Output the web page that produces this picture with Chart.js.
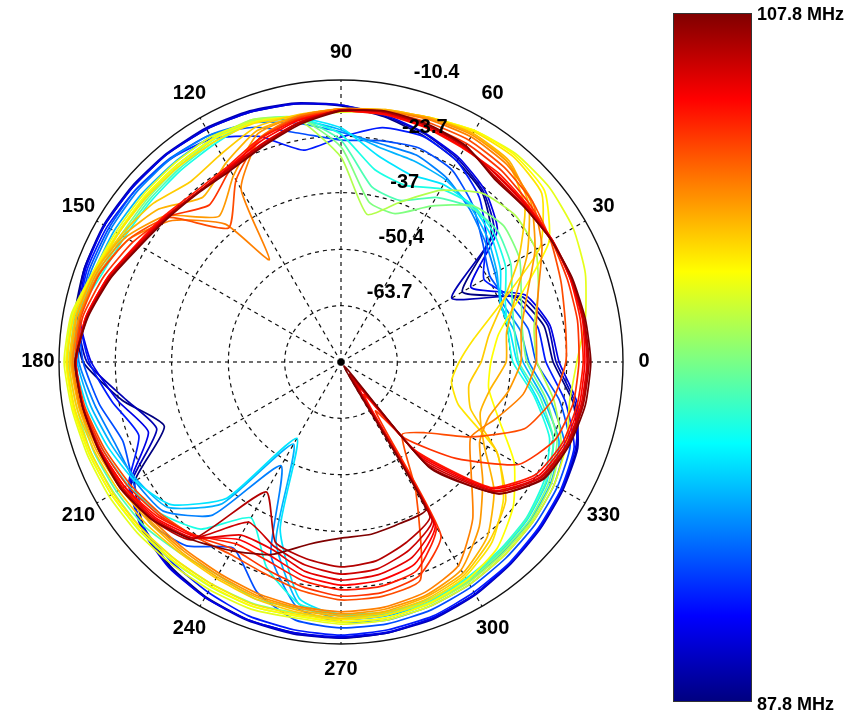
<!DOCTYPE html>
<html><head><meta charset="utf-8">
<script src="https://cdn.jsdelivr.net/npm/chart.js@4/dist/chart.umd.min.js"></script>
<style>html,body{margin:0;padding:0;background:#fff;overflow:hidden}canvas{display:block}</style>
</head><body>
<canvas id="c" width="859" height="720"></canvas>
<script>
// Angles (degrees, counter-clockwise from 0 at the right)
const angles = [0,10,20,30,40,50,60,70,80,90,100,110,120,130,140,150,160,170,180,190,200,210,220,230,240,250,260,270,280,290,300,310,320,330,340,350];
// Frequencies (MHz), ascending
const freqs = [87.8,88.8,89.8,90.8,91.8,92.8,93.8,94.8,95.8,96.8,97.8,98.8,99.8,100.3,100.8,101.3,101.8,102.3,102.8,103.8,104.3,104.8,105.3,105.8,106.3,106.8,107.8];
// Level (dB) per angle, one array per frequency
const f087_8 = [-26.9,-28.3,-32.6,-43.9,-30.7,-25.0,-22.2,-20.1,-18.2,-16.5,-15.1,-14.2,-13.5,-13.0,-12.8,-12.5,-12.5,-13.2,-16.1,-24.6,-32.6,-20.8,-16.3,-14.2,-13.0,-12.3,-12.1,-11.8,-12.1,-12.8,-13.7,-14.9,-15.8,-16.8,-17.7,-21.3];
const f088_8 = [-26.2,-27.4,-31.7,-46.8,-29.8,-24.6,-21.7,-19.6,-18.0,-16.3,-14.9,-13.9,-13.2,-12.8,-12.5,-12.3,-12.5,-13.7,-17.0,-25.5,-30.7,-19.8,-15.8,-13.9,-12.8,-12.1,-11.8,-11.8,-12.1,-12.5,-13.5,-14.7,-15.6,-16.5,-17.5,-20.8];
const f089_8 = [-25.5,-26.9,-30.7,-41.6,-28.8,-24.1,-21.3,-19.4,-17.7,-16.3,-15.1,-14.2,-13.5,-13.0,-12.8,-12.5,-12.8,-14.2,-18.0,-23.6,-28.6,-19.4,-15.6,-13.7,-12.8,-12.3,-12.1,-12.1,-12.3,-12.8,-13.7,-14.9,-15.8,-16.8,-18.0,-20.3];
const f090_8 = [-28.6,-29.8,-33.3,-38.0,-32.1,-26.2,-22.2,-20.3,-20.8,-23.9,-26.2,-20.3,-16.1,-14.4,-13.7,-13.2,-13.2,-14.2,-17.5,-22.2,-26.2,-19.1,-16.1,-15.1,-14.2,-13.2,-12.8,-12.5,-12.8,-13.2,-14.2,-15.1,-16.1,-17.0,-18.4,-23.2];
const f091_8 = [-30.9,-32.1,-35.0,-36.4,-33.3,-28.6,-24.6,-23.2,-23.9,-24.6,-22.2,-18.0,-15.1,-14.2,-13.7,-13.7,-13.7,-14.2,-16.1,-19.1,-22.2,-20.3,-18.0,-20.3,-26.2,-19.1,-15.1,-14.2,-14.2,-14.7,-15.6,-16.5,-17.2,-18.0,-19.4,-24.6];
const f092_8 = [-32.6,-34.0,-36.4,-35.0,-32.6,-29.8,-26.9,-25.0,-24.6,-22.7,-19.8,-16.8,-15.1,-14.4,-14.2,-14.2,-14.2,-14.2,-15.1,-18.0,-20.3,-20.8,-22.2,-29.8,-48.7,-28.6,-18.0,-15.6,-15.1,-15.6,-16.3,-17.2,-18.0,-18.9,-20.8,-26.9];
const f093_8 = [-34.0,-35.4,-36.9,-34.5,-31.7,-29.3,-27.4,-26.5,-25.5,-22.2,-18.9,-16.5,-15.6,-15.6,-15.4,-15.1,-14.9,-14.2,-14.7,-17.0,-19.4,-21.3,-23.6,-33.3,-54.6,-32.1,-19.1,-16.3,-16.1,-16.3,-17.0,-18.0,-18.7,-19.8,-22.2,-28.6];
const f094_8 = [-35.4,-36.4,-36.9,-33.5,-30.7,-28.8,-28.6,-29.8,-27.4,-21.7,-18.4,-16.5,-16.3,-16.5,-16.5,-16.1,-15.4,-14.2,-14.2,-16.1,-18.4,-20.8,-24.6,-35.0,-56.2,-35.0,-20.3,-17.0,-16.5,-16.8,-17.5,-18.4,-19.4,-20.8,-23.6,-30.2];
const f095_8 = [-36.4,-36.9,-35.7,-32.1,-29.8,-28.6,-29.8,-32.6,-30.9,-23.2,-18.4,-16.5,-17.5,-18.0,-18.2,-18.0,-16.8,-13.7,-13.7,-15.1,-17.0,-18.9,-21.3,-25.5,-34.5,-25.5,-19.1,-17.5,-17.0,-17.2,-18.0,-18.9,-19.8,-21.5,-24.6,-30.7];
const f096_8 = [-35.0,-35.4,-34.0,-30.7,-28.8,-29.3,-32.1,-36.4,-35.0,-24.6,-18.4,-16.3,-17.0,-17.5,-17.7,-17.5,-16.3,-13.2,-13.2,-14.4,-14.9,-15.8,-16.5,-18.0,-18.9,-17.5,-18.0,-17.0,-16.8,-17.0,-17.7,-18.7,-19.6,-21.0,-23.6,-29.3];
const f097_8 = [-33.1,-33.5,-31.7,-28.3,-26.9,-28.8,-34.5,-39.7,-38.7,-26.2,-18.4,-16.1,-16.5,-17.0,-17.2,-17.0,-15.8,-12.8,-12.5,-13.7,-14.2,-15.1,-15.6,-16.1,-16.3,-16.3,-16.8,-16.3,-16.3,-16.5,-17.2,-18.2,-18.9,-20.3,-22.7,-27.9];
const f098_8 = [-30.7,-30.7,-27.4,-23.9,-23.2,-25.0,-30.2,-36.9,-41.6,-28.6,-18.9,-16.1,-16.1,-16.5,-16.5,-16.3,-15.4,-12.5,-12.1,-13.0,-13.7,-14.4,-14.9,-15.4,-15.6,-15.6,-16.1,-15.6,-15.6,-16.1,-16.8,-17.7,-18.4,-19.6,-21.7,-26.0];
const f099_8 = [-21.3,-18.4,-15.6,-13.7,-12.8,-12.8,-13.9,-15.6,-17.0,-18.0,-18.0,-16.5,-15.6,-15.8,-15.8,-15.6,-14.7,-12.3,-11.6,-12.5,-13.2,-13.7,-14.2,-14.7,-14.9,-14.9,-15.6,-15.1,-15.1,-15.6,-16.3,-17.2,-18.0,-18.9,-20.3,-22.2];
const f100_3 = [-41.6,-39.2,-32.1,-20.3,-14.2,-13.2,-13.9,-15.6,-16.8,-17.7,-18.0,-16.8,-16.3,-16.5,-16.3,-16.1,-14.9,-12.8,-12.1,-12.8,-13.7,-14.4,-15.1,-15.6,-15.8,-15.6,-16.1,-15.6,-15.6,-16.3,-17.5,-19.6,-23.9,-29.8,-37.3,-41.6];
const f100_8 = [-49.1,-45.1,-36.9,-22.7,-15.1,-13.7,-14.2,-15.6,-16.8,-17.5,-18.0,-17.0,-17.0,-17.0,-16.8,-16.3,-15.1,-13.0,-12.3,-13.2,-14.2,-14.9,-15.6,-16.1,-16.3,-16.1,-16.5,-16.1,-16.3,-17.0,-18.4,-21.5,-26.9,-34.5,-47.5,-50.5];
const f101_3 = [-43.9,-41.6,-36.4,-28.6,-20.3,-15.6,-14.7,-15.6,-16.5,-17.2,-17.7,-18.0,-20.3,-21.5,-18.9,-17.0,-15.1,-13.5,-12.8,-13.7,-15.1,-16.3,-17.2,-18.0,-18.0,-17.5,-17.0,-16.5,-16.8,-17.5,-18.9,-22.2,-26.2,-34.5,-44.4,-46.3];
const f101_8 = [-38.0,-37.3,-33.3,-26.2,-19.1,-15.1,-14.7,-15.6,-16.5,-17.2,-18.0,-18.9,-22.7,-26.2,-20.8,-17.5,-15.1,-13.7,-13.2,-14.2,-15.6,-17.0,-18.0,-18.4,-18.4,-18.0,-17.5,-17.0,-17.2,-18.0,-19.4,-23.2,-29.8,-38.0,-42.0,-41.1];
const f102_3 = [-34.5,-33.8,-30.2,-24.1,-18.4,-15.6,-15.1,-15.8,-16.8,-17.2,-18.0,-19.6,-26.2,-32.1,-23.2,-18.2,-15.6,-14.2,-13.5,-14.4,-16.1,-17.5,-18.4,-18.9,-18.9,-18.4,-18.0,-17.5,-17.7,-18.4,-20.3,-26.2,-33.3,-39.2,-39.7,-36.9];
const f102_8 = [-30.9,-30.2,-27.4,-22.2,-18.0,-16.1,-15.6,-16.1,-16.8,-17.2,-18.0,-20.8,-29.8,-34.5,-25.0,-19.1,-16.1,-14.4,-13.7,-14.7,-16.3,-18.0,-18.9,-19.4,-19.4,-18.9,-18.4,-18.0,-18.2,-19.1,-21.5,-28.6,-36.9,-41.6,-38.0,-33.3];
const f103_8 = [-23.9,-23.2,-21.7,-19.8,-18.0,-17.0,-16.5,-16.8,-17.0,-17.5,-18.4,-20.8,-27.4,-35.7,-23.9,-19.1,-16.3,-14.7,-14.2,-15.6,-17.5,-19.4,-21.3,-23.2,-24.6,-23.9,-22.2,-20.8,-20.8,-22.2,-41.6,-54.6,-51.0,-41.6,-30.9,-26.2];
const f104_3 = [-20.8,-20.3,-20.1,-19.6,-18.9,-18.0,-17.5,-17.5,-17.5,-17.7,-18.7,-21.0,-24.6,-28.6,-23.6,-20.3,-17.5,-15.1,-14.4,-15.4,-17.0,-18.7,-20.8,-23.4,-26.0,-25.0,-23.2,-21.7,-21.7,-23.2,-29.8,-53.4,-41.6,-28.6,-23.2,-21.3];
const f104_8 = [-19.8,-19.6,-19.4,-19.4,-19.4,-18.9,-18.9,-18.2,-17.7,-17.7,-18.9,-20.8,-23.6,-24.1,-22.9,-21.3,-18.4,-15.8,-14.4,-15.1,-16.5,-18.0,-20.3,-23.6,-27.4,-26.9,-24.6,-23.2,-23.2,-24.6,-32.1,-49.8,-30.9,-23.9,-21.3,-20.3];
const f105_3 = [-19.4,-19.1,-19.4,-19.4,-19.6,-19.4,-18.7,-18.0,-17.5,-17.7,-19.1,-21.5,-23.9,-24.6,-23.2,-21.5,-18.4,-15.8,-14.4,-15.1,-16.5,-18.0,-19.8,-23.2,-28.6,-28.3,-25.7,-24.3,-24.6,-26.2,-32.6,-48.7,-30.5,-23.2,-20.8,-19.8];
const f105_8 = [-18.9,-18.9,-19.1,-19.4,-19.8,-19.6,-18.4,-17.7,-17.2,-17.5,-19.6,-22.2,-24.1,-24.6,-23.4,-21.7,-18.7,-16.1,-14.4,-15.1,-16.3,-17.5,-19.4,-22.7,-29.8,-29.8,-26.9,-25.5,-26.0,-27.9,-33.3,-47.5,-29.8,-22.7,-20.3,-19.4];
const f106_3 = [-18.7,-18.9,-19.1,-19.6,-20.1,-20.1,-18.4,-17.5,-17.0,-17.5,-19.6,-22.4,-24.3,-24.6,-23.6,-22.0,-18.9,-16.1,-14.2,-15.1,-16.3,-17.2,-19.1,-22.7,-33.3,-30.7,-28.3,-26.9,-27.4,-29.8,-34.0,-46.3,-29.3,-22.4,-20.1,-19.1];
const f106_8 = [-18.4,-18.7,-19.1,-19.6,-20.3,-20.3,-18.2,-17.5,-17.0,-17.5,-19.8,-22.7,-24.6,-24.6,-23.6,-22.0,-18.9,-16.1,-14.2,-15.1,-16.1,-17.0,-18.9,-22.2,-41.6,-31.7,-29.8,-28.6,-29.3,-31.7,-35.0,-45.1,-28.6,-22.0,-19.8,-18.9];
const f107_8 = [-18.0,-18.4,-18.9,-19.6,-20.3,-20.6,-18.0,-17.2,-16.8,-17.7,-20.1,-22.9,-24.8,-24.8,-23.9,-22.2,-19.1,-16.3,-14.2,-15.1,-16.1,-17.0,-18.9,-22.2,-25.5,-28.6,-33.3,-35.4,-35.7,-36.4,-36.9,-44.4,-28.6,-21.7,-19.6,-18.4];
const series = [f087_8,f088_8,f089_8,f090_8,f091_8,f092_8,f093_8,f094_8,f095_8,f096_8,f097_8,f098_8,f099_8,f100_3,f100_8,f101_3,f101_8,f102_3,f102_8,f103_8,f104_3,f104_8,f105_3,f105_8,f106_3,f106_8,f107_8];
// Extra half-step readings at deep nulls: [frequency MHz, angle deg, level dB]
const halfStep = [[102.8,125,-47.5],[104.3,305,-62.8],[104.8,305,-67.6],[105.3,305,-69.9],[105.8,305,-71.1],[106.3,305,-72.3],[106.8,305,-73.5],[107.8,305,-75.8]];
// Radial axis
const rMin = -77.0, rMax = -10.4;
const ringTicks = [-63.7, -50.4, -37, -23.7, -10.4];
const ringLabels = ['-63.7', '-50,4', '-37', '-23.7', '-10.4'];
const angleTicks = [0,30,60,90,120,150,180,210,240,270,300,330];
const barLabels = ['107.8 MHz', '87.8 MHz'];

function jet(t) {
  const c = x => Math.round(255 * Math.max(0, Math.min(1, x)));
  return 'rgb(' + c(1.5 - Math.abs(4*t - 3)) + ',' + c(1.5 - Math.abs(4*t - 2)) + ',' + c(1.5 - Math.abs(4*t - 1)) + ')';
}

// radar slots every 5 deg, running clockwise from the right; angle increases counter-clockwise
const STEP = 5, NSLOT = 360 / STEP;
const slotAngles = Array.from({ length: NSLOT }, (_, k) => (360 - k * STEP) % 360);
const labels = slotAngles.map(a => String(a));
const fMin = 87.8, fMax = 107.8;

function valueAt(i, a) {
  const j = angles.indexOf(a);
  if (j >= 0) return series[i][j];
  const h = halfStep.find(e => e[0] === freqs[i] && e[1] === a);
  return h ? h[2] : null;
}

const datasets = series.map((vals, i) => ({
  label: freqs[i] + ' MHz',
  data: slotAngles.map(a => valueAt(i, a)),
  borderColor: jet((freqs[i] - fMin) / (fMax - fMin)),
  borderWidth: 1.7,
  pointRadius: 0,
  fill: false,
  spanGaps: true,
  tension: 0.18,
  order: series.length - 1 - i
}));

const FONT = '"Liberation Sans", Arial, Helvetica, sans-serif';

const decor = {
  id: 'decor',
  afterDatasetsDraw(chart) {
    const s = chart.scales.r, ctx = chart.ctx;
    ctx.save();
    ctx.fillStyle = '#000';
    ctx.font = 'bold 20px ' + FONT;
    ctx.textAlign = 'left';
    ctx.textBaseline = 'bottom';
    const a = 78 * Math.PI / 180;
    ringTicks.forEach((v, i) => {
      const d = s.getDistanceFromCenterForValue(v);
      const x = s.xCenter + d * Math.cos(a);
      const y = s.yCenter - d * Math.sin(a);
      ctx.fillText('  ' + ringLabels[i], x + 3, y - 4);
    });
    // centre dot
    ctx.beginPath();
    ctx.arc(s.xCenter, s.yCenter, 3.5, 0, Math.PI * 2);
    ctx.fill();
    ctx.restore();
  },
  afterDraw(chart) {
    const s = chart.scales.r, ctx = chart.ctx;
    ctx.save();
    ctx.fillStyle = '#000';
    // angle labels
    ctx.font = 'bold 20px ' + FONT;
    ctx.textAlign = 'center';
    ctx.textBaseline = 'middle';
    const Rx = s.drawingArea * 1.075, Ry = s.drawingArea * 1.095;
    angleTicks.forEach(t => {
      const a = t * Math.PI / 180;
      ctx.fillText(String(t), s.xCenter + Rx * Math.cos(a), s.yCenter - Ry * Math.sin(a) - 1);
    });
    // colour bar
    const bx = 673, by = 13, bw = 79, bh = 689;
    const g = ctx.createLinearGradient(0, by, 0, by + bh);
    for (let k = 0; k <= 64; k++) g.addColorStop(k / 64, jet(1 - k / 64));
    ctx.fillStyle = g;
    ctx.fillRect(bx, by, bw, bh);
    ctx.strokeStyle = '#333';
    ctx.lineWidth = 1;
    ctx.strokeRect(bx + 0.5, by + 0.5, bw - 1, bh - 1);
    ctx.fillStyle = '#000';
    ctx.font = 'bold 18px ' + FONT;
    ctx.textAlign = 'left';
    ctx.textBaseline = 'middle';
    ctx.fillText(barLabels[0], bx + bw + 5, by + 2);
    ctx.fillText(barLabels[1], bx + bw + 5, by + bh + 3);
    ctx.restore();
  }
};

new Chart(document.getElementById('c'), {
  type: 'radar',
  data: { labels, datasets },
  options: {
    responsive: false,
    animation: false,
    layout: { padding: { left: 59, top: 80, right: 236, bottom: 76 } },
    plugins: { legend: { display: false }, tooltip: { enabled: false } },
    elements: { point: { radius: 0 }, line: { borderJoinStyle: 'round' } },
    scales: {
      r: {
        min: rMin,
        max: rMax,
        startAngle: 90,
        afterBuildTicks: sc => { sc.ticks = ringTicks.map(v => ({ value: v })); },
        ticks: { display: false },
        pointLabels: { display: false },
        grid: {
          circular: true,
          color: '#111',
          lineWidth: c => (c.tick && c.tick.value === rMax ? 1.4 : 1.2)
        },
        border: { dash: c => (c.tick && c.tick.value === rMax ? [] : [4, 4]) },
        angleLines: {
          color: '#111',
          lineWidth: c => (Number(c.label) % 30 === 0 ? 1.2 : 0),
          borderDash: [4, 4]
        }
      }
    }
  },
  plugins: [decor]
});
</script>
</body></html>
